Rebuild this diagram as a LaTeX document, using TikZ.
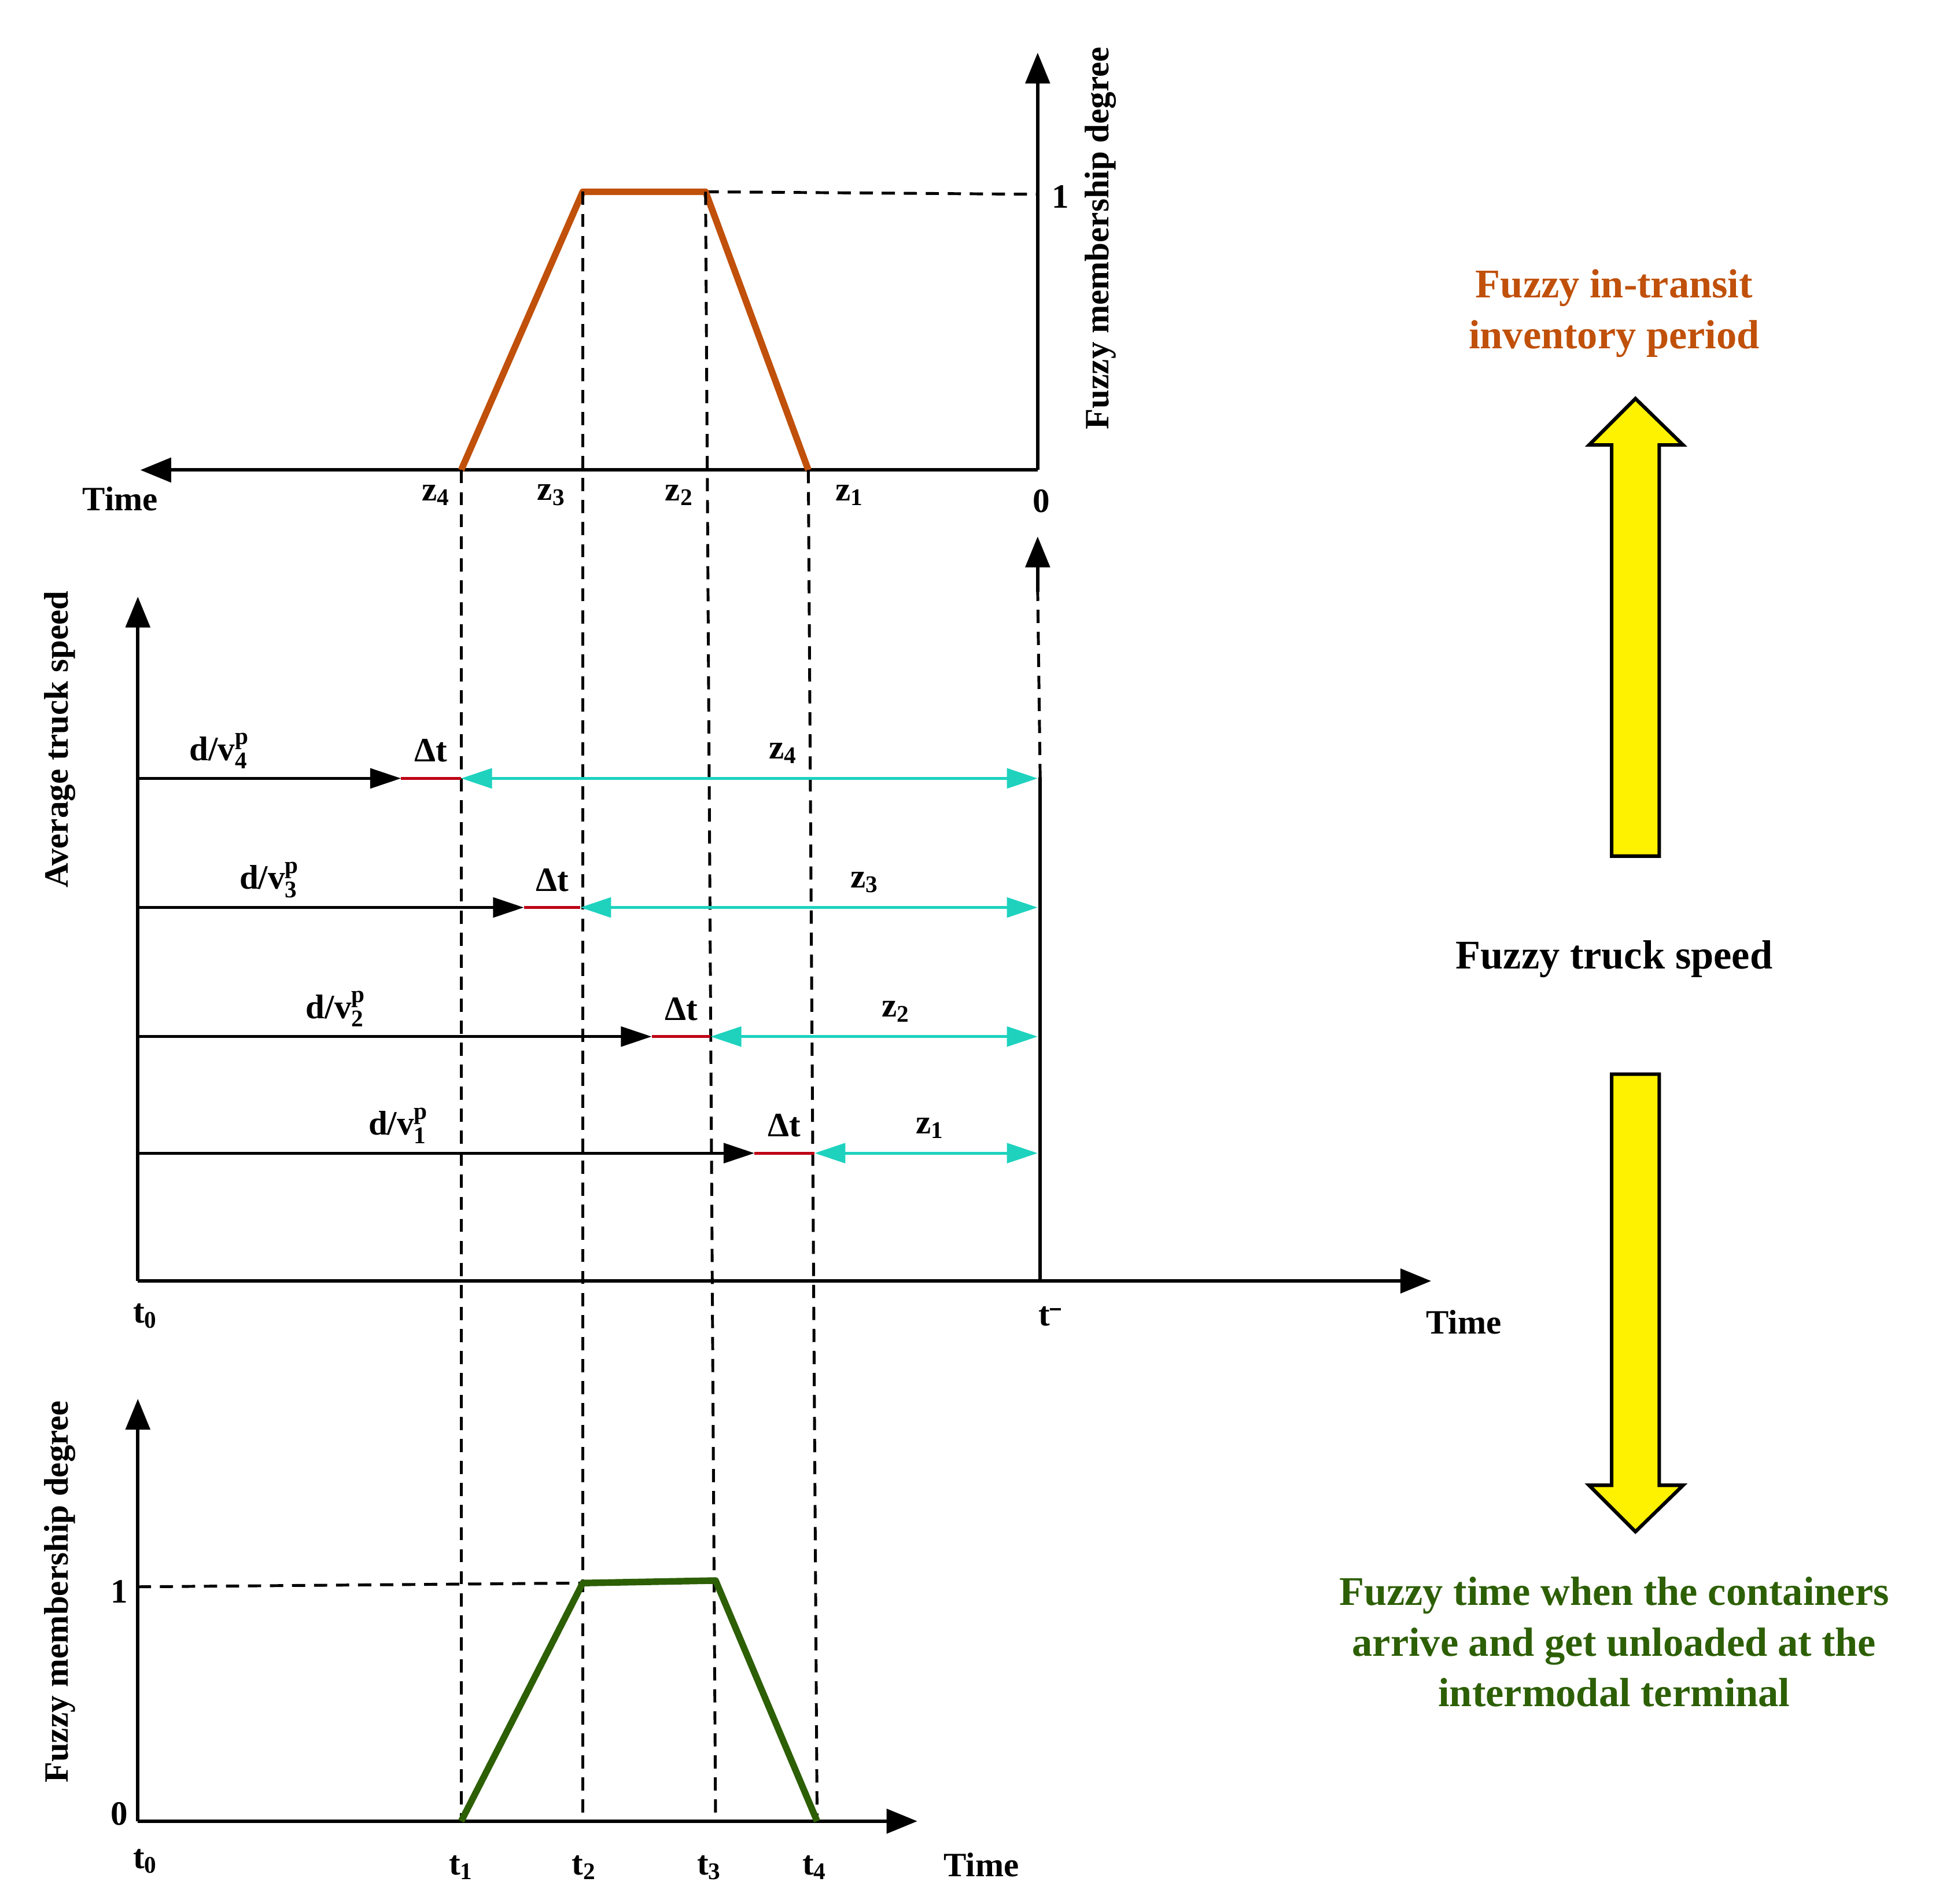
\documentclass[tikz,border=0pt]{standalone}
\usepackage{fontspec}
\setmainfont{Liberation Serif}
\usetikzlibrary{arrows.meta}
\definecolor{orng}{RGB}{192,80,10}
\definecolor{grn}{RGB}{45,95,5}
\definecolor{cyn}{RGB}{30,210,190}
\definecolor{rd}{RGB}{190,0,20}
\begin{document}
\begin{tikzpicture}[x=0.02cm,y=-0.02cm,
 ax/.style={line width=1.6pt,-{Triangle[length=14pt,width=11pt]}},
 dsh/.style={line width=1.3pt,dash pattern=on 6pt off 4pt},
 lb/.style={font=\bfseries\fontsize{15.5}{18}\selectfont},
 big/.style={font=\bfseries\fontsize{18.5}{23}\selectfont,align=center},
 blk/.style={line width=1.3pt,-{Triangle[length=14pt,width=9pt]}},
 cy/.style={line width=1.3pt,cyn,{Triangle[length=14pt,width=9pt]}-{Triangle[length=14pt,width=9pt]}},
 rl/.style={line width=1.3pt,rd},
 yarr/.style={draw=black,line width=1.6pt,fill=yellow}]
\useasboundingbox (0,0) rectangle (1556,1519);
% ---------- top chart
\coordinate (O1) at (828,375);
\coordinate (Y1) at (828,42);
\coordinate (X1) at (112,375);
\draw[ax] (O1) -- (Y1);
\draw[ax] (O1) -- (X1);
\coordinate (a1) at (368,375); \coordinate (a2) at (465,153);
\coordinate (a3) at (563,153); \coordinate (a4) at (645,375);
\coordinate (one1) at (828,155);
\draw[dsh] (a3) -- (one1);
\draw[line width=3pt,orng,line join=round] (a1)--(a2)--(a3)--(a4);
\node[lb] (time1) at (96,398) {Time};
\node[lb] (zero1) at (831,400) {0};
\node[lb] (onel1) at (846,157) {1};
\node[lb,rotate=90] (fmd1) at (878,190) {Fuzzy membership degree};
\node[lb] (z4a) at (348,395) {z\textsubscript{4}};
\node[lb] (z3a) at (440,395) {z\textsubscript{3}};
\node[lb] (z2a) at (542,395) {z\textsubscript{2}};
\node[lb] (z1a) at (678,395) {z\textsubscript{1}};
% ---------- dashed verticals
\coordinate (b1) at (368,1453); \coordinate (b2) at (465,1263);
\coordinate (b3) at (571,1261); \coordinate (b4) at (652,1453);
\coordinate (b2b) at (465,1453); \coordinate (b3b) at (571,1453);
\draw[dsh] (a1) -- (b1);
\draw[dsh] (a2) -- (b2b);
\draw[dsh] (a3) -- (b3b);
\draw[dsh] (a4) -- (b4);
% ---------- middle chart
\coordinate (O2) at (110,1022);
\coordinate (Y2) at (110,476);
\coordinate (X2) at (1142,1022);
\draw[ax] (O2) -- (Y2);
\draw[ax] (O2) -- (X2);
\coordinate (T2) at (830,1022);
\coordinate (T2m) at (830,620);
\coordinate (T2u) at (828,428);
\draw[line width=1.6pt] (T2) -- (T2m);
\draw[dsh] (T2m) -- (828,470);
\draw[line width=1.6pt,-{Triangle[length=14pt,width=11pt]}] (828,472) -- (T2u);
\node[lb] (t0m) at (116,1050) {t\textsubscript{0}};
\node[lb] (tm) at (838,1050) {t\textsuperscript{\rule[0.35ex]{0.45em}{0.18ex}}};
\node[lb] (time2) at (1168,1055) {Time};
\node[lb,rotate=90] (ats) at (48,590) {Average truck speed};
\foreach \y/\xa/\xb/\i/\dx/\zx in {621/320/368/4/175/625, 724/418/463/3/215/690, 827/520/567/2/268/715, 920/602/650/1/318/742}{
  \coordinate (s\i) at (110,\y);
  \coordinate (r\i) at (\xa,\y);
  \coordinate (c\i) at (\xb,\y);
  \coordinate (e\i) at (828,\y);
  \draw[blk] (s\i) -- (r\i);
  \draw[rl] (r\i) -- (c\i);
  \draw[cy] (c\i) -- (e\i);
  \node[lb] (dv\i) at (\dx,\y-22) {d/v$_{\mathbf{\i}}^{\mathbf{p}}$};
  \node[lb] (dt\i) at ({(\xa+\xb)/2},\y-22) {Δt};
  \node[lb] (zz\i) at (\zx,\y-20) {z\textsubscript{\i}};
}
% ---------- bottom chart
\coordinate (O3) at (110,1453);
\coordinate (Y3) at (110,1116);
\coordinate (X3) at (732,1453);
\draw[ax] (O3) -- (Y3);
\draw[ax] (O3) -- (X3);
\coordinate (one3) at (110,1266);
\draw[dsh] (one3) -- (b2);
\draw[line width=3pt,grn,line join=round] (b1)--(b2)--(b3)--(b4);
\node[lb] (zero3) at (95,1447) {0};
\node[lb] (one3l) at (95,1270) {1};
\node[lb] (t0b) at (116,1485) {t\textsubscript{0}};
\node[lb] (t1b) at (368,1490) {t\textsubscript{1}};
\node[lb] (t2b) at (466,1490) {t\textsubscript{2}};
\node[lb] (t3b) at (566,1490) {t\textsubscript{3}};
\node[lb] (t4b) at (650,1490) {t\textsubscript{4}};
\node[lb] (time3) at (783,1488) {Time};
\node[lb,rotate=90] (fmd3) at (48,1270) {Fuzzy membership degree};
% ---------- right side
\node[big,orng] (fit) at (1288,250) {Fuzzy in-transit\\inventory period};
\draw[yarr] (1286,683) -- (1286,355) -- (1268,355) -- (1305,318) -- (1343,355) -- (1324,355) -- (1324,683) -- cycle;
\node[big] (fts) at (1288,765) {Fuzzy truck speed};
\draw[yarr] (1286,857) -- (1286,1185) -- (1268,1185) -- (1305,1222) -- (1343,1185) -- (1324,1185) -- (1324,857) -- cycle;
\node[big,grn] (ftw) at (1288,1310) {Fuzzy time when the containers\\arrive and get unloaded at the\\intermodal terminal};
\end{tikzpicture}
\end{document}
